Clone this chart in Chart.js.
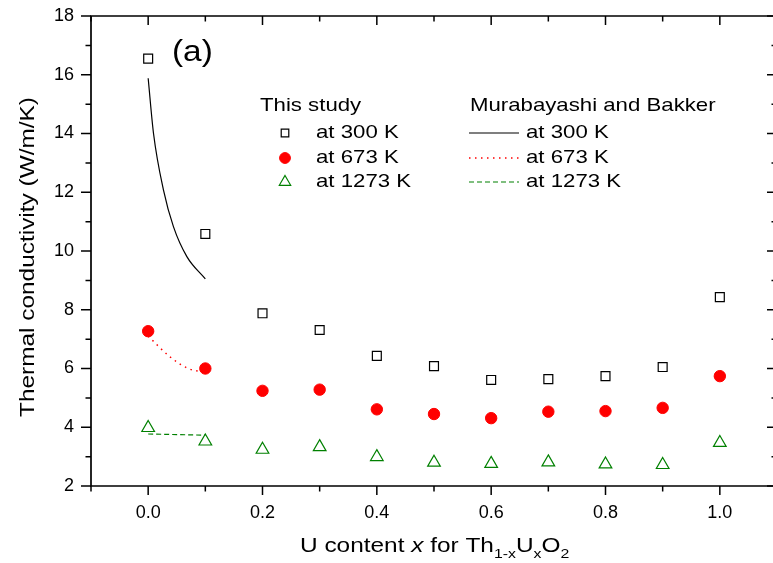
<!DOCTYPE html>
<html>
<head>
<meta charset="utf-8">
<script src="https://cdn.jsdelivr.net/npm/chart.js@4"></script>
<style>
html,body{margin:0;padding:0;background:#fff;overflow:hidden;}
#wrap{width:800px;height:563px;position:relative;}
</style>
</head>
<body>
<div id="wrap"><canvas id="c" width="800" height="563"></canvas></div>
<script>
// ---- data ----
const uContent = [0.0, 0.1, 0.2, 0.3, 0.4, 0.5, 0.6, 0.7, 0.8, 0.9, 1.0];
const k300 = [16.55, 10.58, 7.88, 7.31, 6.43, 6.08, 5.61, 5.64, 5.74, 6.05, 8.43];
const k673 = [7.27, 6.00, 5.24, 5.28, 4.61, 4.45, 4.31, 4.53, 4.55, 4.66, 5.74];
const k1273 = [3.98, 3.52, 3.24, 3.33, 2.99, 2.80, 2.76, 2.81, 2.74, 2.72, 3.47];
const murX300 = [0.0, 0.0093, 0.0267, 0.0442, 0.0677, 0.1];
const murK300 = [15.88, 14.01, 12.08, 10.83, 9.81, 9.05];
const murX673 = [0.0, 0.038, 0.07, 0.1];
const murK673 = [7.10, 6.40, 6.00, 5.87];
const murX1273 = [0.0, 0.1];
const murK1273 = [3.77, 3.73];
const xTickValues = [0.0, 0.2, 0.4, 0.6, 0.8, 1.0];
const xMinorValues = [-0.1, 0.1, 0.3, 0.5, 0.7, 0.9, 1.1];
const yTickValues = [2, 4, 6, 8, 10, 12, 14, 16, 18];
const yMinorValues = [3, 5, 7, 9, 11, 13, 15, 17];
const legendLeftTitle = "This study";
const legendRightTitle = "Murabayashi and Bakker";
const seriesLabels = ["at 300 K", "at 673 K", "at 1273 K"];
const panelLabel = "(a)";
const yTitle = "Thermal conductivity (W/m/K)";

const FONT = "'Liberation Sans', Arial, sans-serif";
const pts = (xs, ys) => xs.map((x, i) => ({x: x, y: ys[i]}));
const RED = '#ff0000', GREEN = '#008000', BLACK = '#000000';

const datasets = [
  {label: seriesLabels[0], data: pts(murX300, murK300), showLine: true, borderColor: BLACK, borderWidth: 1.2,
   pointRadius: 0, cubicInterpolationMode: 'monotone', fill: false},
  {label: seriesLabels[1], data: pts(murX673, murK673), showLine: true, borderColor: RED, borderWidth: 1.5,
   borderDash: [1.5, 4.5], pointRadius: 0, cubicInterpolationMode: 'monotone', fill: false},
  {label: seriesLabels[2], data: pts(murX1273, murK1273), showLine: true, borderColor: GREEN, borderWidth: 1.2,
   borderDash: [5, 3], pointRadius: 0, fill: false},
  {label: seriesLabels[0], data: pts(uContent, k300), showLine: false, pointStyle: 'rect', pointRadius: 6.3,
   pointBorderColor: BLACK, pointBackgroundColor: 'rgba(255,255,255,0)', pointBorderWidth: 1.2},
  {label: seriesLabels[1], data: pts(uContent, k673), showLine: false, pointStyle: 'circle', pointRadius: 5.7,
   pointBorderColor: RED, pointBackgroundColor: RED, pointBorderWidth: 1},
  {label: seriesLabels[2], data: pts(uContent, k1273), showLine: false, pointStyle: 'triangle', pointRadius: 7.3,
   pointBorderColor: GREEN, pointBackgroundColor: 'rgba(255,255,255,0)', pointBorderWidth: 1.2}
];

// draw text stretched along its direction (reference text is wide)
function wideText(ctx, text, x, y, font, sx, align) {
  ctx.save();
  ctx.font = font;
  ctx.textAlign = align || 'left';
  ctx.translate(x, y);
  ctx.scale(sx, 1);
  ctx.fillText(text, 0, 0);
  const w = ctx.measureText(text).width * sx;
  ctx.restore();
  return w;
}

const frameAndDecor = {
  id: 'frameAndDecor',
  afterDatasetsDraw(chart) {
    const ctx = chart.ctx, a = chart.chartArea;
    const xs = chart.scales.x, ys = chart.scales.y;
    ctx.save();
    ctx.strokeStyle = BLACK;
    ctx.lineWidth = 1.7;
    ctx.beginPath();
    ctx.rect(a.left, a.top, a.right - a.left, a.bottom - a.top);
    ctx.stroke();
    ctx.lineWidth = 1.5;
    ctx.beginPath();
    const vx = (v, len) => {
      const px = xs.getPixelForValue(v);
      ctx.moveTo(px, a.bottom); ctx.lineTo(px, a.bottom + len);
      ctx.moveTo(px, a.top); ctx.lineTo(px, a.top + len);
    };
    xTickValues.forEach(v => vx(v, 9));
    xMinorValues.forEach(v => vx(v, 5.5));
    const hy = (v, len) => {
      const py = ys.getPixelForValue(v);
      ctx.moveTo(a.left, py); ctx.lineTo(a.left - len, py);
      ctx.moveTo(a.right, py); ctx.lineTo(a.right - len, py);
    };
    yTickValues.forEach(v => hy(v, 10));
    yMinorValues.forEach(v => hy(v, 5.5));
    ctx.stroke();

    ctx.fillStyle = BLACK;
    ctx.textBaseline = 'middle';
    // Y title (rotated)
    ctx.save();
    ctx.translate(28, 257);
    ctx.rotate(-Math.PI / 2);
    wideText(ctx, yTitle, 0, 0, "20px " + FONT, 1.22, 'center');
    ctx.restore();

    // X title with italic and subscripts
    ctx.textBaseline = 'alphabetic';
    let x = 300; const base = 552; const SX = 1.22;
    const part = (t, font, dy) => { x += wideText(ctx, t, x, base + dy, font, SX, 'left'); };
    const N = "20px " + FONT, I = "italic 20px " + FONT, S = "13px " + FONT;
    part("U content ", N, 0);
    part("x", I, 0);
    part(" for Th", N, 0);
    part("1-x", S, 6);
    part("U", N, 0);
    part("x", S, 6);
    part("O", N, 0);
    part("2", S, 6);

    // panel label
    ctx.textBaseline = 'middle';
    wideText(ctx, panelLabel, 172, 53, "29px " + FONT, 1.15, 'left');

    // legend
    const LF = "18.5px " + FONT, LS = 1.2;
    wideText(ctx, legendLeftTitle, 260, 106, LF, LS);
    wideText(ctx, legendRightTitle, 470, 106, LF, LS);
    const rows = [133, 158, 182];
    const markers = datasets.slice(3);
    const lines = datasets.slice(0, 3);
    const mscale = [0.85, 0.95, 0.9];
    rows.forEach((ry, i) => {
      ctx.fillStyle = BLACK;
      wideText(ctx, seriesLabels[i], 316, ry, LF, LS);
      wideText(ctx, seriesLabels[i], 526, ry, LF, LS);
      const m = markers[i];
      ctx.save();
      ctx.strokeStyle = m.pointBorderColor;
      ctx.fillStyle = m.pointBackgroundColor;
      ctx.lineWidth = m.pointBorderWidth;
      Chart.helpers.drawPoint(ctx, {pointStyle: m.pointStyle, radius: m.pointRadius * mscale[i], rotation: 0,
        borderWidth: m.pointBorderWidth}, 285, ry);
      ctx.restore();
      const l = lines[i];
      ctx.save();
      ctx.strokeStyle = l.borderColor; ctx.lineWidth = l.borderWidth;
      ctx.setLineDash(l.borderDash || []);
      ctx.beginPath(); ctx.moveTo(469, ry); ctx.lineTo(519, ry); ctx.stroke();
      ctx.restore();
    });
    ctx.restore();
  }
};

const chart = new Chart(document.getElementById('c'), {
  type: 'scatter',
  data: {datasets: datasets},
  options: {
    responsive: false,
    animation: false,
    events: [],
    layout: {padding: {top: 16, right: 23, left: 0, bottom: 0}},
    plugins: {legend: {display: false}, tooltip: {enabled: false}},
    scales: {
      x: {
        type: 'linear', min: -0.1, max: 1.1,
        afterFit(s) { s.height = 77; s.paddingLeft = 0; s.paddingRight = 0; },
        afterBuildTicks(s) { s.ticks = xTickValues.map(v => ({value: v})); },
        grid: {display: false, drawTicks: false},
        border: {display: false},
        ticks: {font: {size: 18, family: FONT}, color: BLACK, padding: 16,
          callback: v => Number(v).toFixed(1)}
      },
      y: {
        type: 'linear', min: 2, max: 18,
        afterFit(s) { s.width = 91; s.paddingTop = 0; s.paddingBottom = 0; },
        afterBuildTicks(s) { s.ticks = yTickValues.map(v => ({value: v})); },
        grid: {display: false, drawTicks: false},
        border: {display: false},
        ticks: {font: {size: 18, family: FONT}, color: BLACK, padding: 17,
          callback: v => String(v)}
      }
    }
  },
  plugins: [frameAndDecor]
});
</script>
</body>
</html>
